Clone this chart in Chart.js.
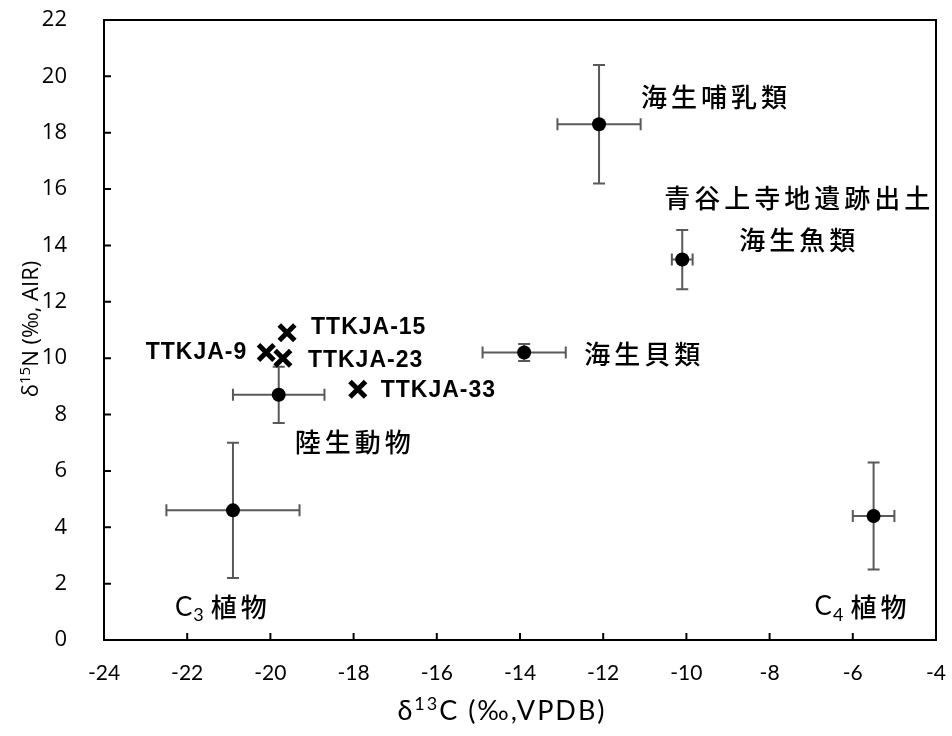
<!DOCTYPE html>
<html>
<head>
<meta charset="utf-8">
<script src="https://cdn.jsdelivr.net/npm/chart.js@4"></script>
<style>
  html, body { margin: 0; padding: 0; background: #fff; }
  #wrap { width: 952px; height: 736px; }
</style>
</head>
<body>
<div id="wrap"><canvas id="c" width="952" height="736"></canvas></div>
<script>
// Food-web reference groups: mean and 1 SD of δ13C / δ15N
const groupNames = ['C3 植物', 'C4 植物', '陸生動物', '海生貝類', '青谷上寺地遺跡出土 海生魚類', '海生哺乳類'];
const groupC13 = [-20.9, -5.5, -19.8, -13.9, -10.1, -12.1];
const groupN15 = [4.6, 4.4, 8.7, 10.2, 13.5, 18.3];
const groupC13SD = [1.6, 0.5, 1.1, 1.0, 0.25, 1.0];
const groupN15SD = [2.4, 1.9, 1.0, 0.3, 1.05, 2.1];

// Individual human samples
const sampleIds = ['TTKJA-9', 'TTKJA-15', 'TTKJA-23', 'TTKJA-33'];
const sampleC13 = [-20.1, -19.6, -19.7, -17.9];
const sampleN15 = [10.2, 10.9, 10.0, 8.9];

// Axis ticks
const xTicks = [-24, -22, -20, -18, -16, -14, -12, -10, -8, -6, -4];
const yTicks = [0, 2, 4, 6, 8, 10, 12, 14, 16, 18, 20, 22];

const CJK = '"Noto Sans CJK JP", sans-serif';
const CJK_FONT = '500 26px ' + CJK;

// Label placement relative to each group's point (pixels)
const groupLabelLayout = [
  { dx: -58, dy: 97, align: 'left', sub: true },
  { dx: -59, dy: 91, align: 'left', sub: true },
  { dx: 16, dy: 47, align: 'left' },
  { dx: 60, dy: 2, align: 'left' },
  { dx: 115, dy: -61, align: 'center', lineGap: 42 },
  { dx: 42, dy: -27, align: 'left' }
];
const sampleLabelLayout = [
  { dx: -19, dy: 0, align: 'right' },
  { dx: 24, dy: -5, align: 'left' },
  { dx: 25, dy: 2, align: 'left' },
  { dx: 23, dy: 1, align: 'left' }
];

const errorBars = {
  id: 'errorBars',
  beforeDatasetsDraw(chart) {
    const { ctx, scales: { x, y } } = chart;
    const cap = 6;
    ctx.save();
    ctx.strokeStyle = '#595959';
    ctx.lineWidth = 2;
    for (let i = 0; i < groupC13.length; i++) {
      const px = x.getPixelForValue(groupC13[i]);
      const py = y.getPixelForValue(groupN15[i]);
      const x0 = x.getPixelForValue(groupC13[i] - groupC13SD[i]);
      const x1 = x.getPixelForValue(groupC13[i] + groupC13SD[i]);
      const y0 = y.getPixelForValue(groupN15[i] + groupN15SD[i]);
      const y1 = y.getPixelForValue(groupN15[i] - groupN15SD[i]);
      ctx.beginPath();
      ctx.moveTo(x0, py); ctx.lineTo(x1, py);
      ctx.moveTo(x0, py - cap); ctx.lineTo(x0, py + cap);
      ctx.moveTo(x1, py - cap); ctx.lineTo(x1, py + cap);
      ctx.moveTo(px, y0); ctx.lineTo(px, y1);
      ctx.moveTo(px - cap, y0); ctx.lineTo(px + cap, y0);
      ctx.moveTo(px - cap, y1); ctx.lineTo(px + cap, y1);
      ctx.stroke();
    }
    ctx.restore();
  }
};

const frameAndText = {
  id: 'frameAndText',
  afterDraw(chart) {
    const { ctx, chartArea: a, scales: { x, y } } = chart;
    ctx.save();
    // plot frame
    ctx.strokeStyle = '#000';
    ctx.lineWidth = 2;
    ctx.strokeRect(a.left, a.top, a.right - a.left, a.bottom - a.top);
    // inward ticks
    ctx.beginPath();
    xTicks.forEach(v => { const p = x.getPixelForValue(v); ctx.moveTo(p, a.bottom); ctx.lineTo(p, a.bottom - 7); });
    yTicks.forEach(v => { const p = y.getPixelForValue(v); ctx.moveTo(a.left, p); ctx.lineTo(a.left + 7, p); });
    ctx.stroke();

    ctx.fillStyle = '#000';
    ctx.textBaseline = 'middle';

    // group labels
    groupNames.forEach((name, i) => {
      const L = groupLabelLayout[i];
      const px = x.getPixelForValue(groupC13[i]) + L.dx;
      const py = y.getPixelForValue(groupN15[i]) + L.dy;
      if (L.sub) {
        const [cpart, word] = name.split(' ');
        ctx.letterSpacing = '0px';
        ctx.font = '26px Lato, sans-serif';
        ctx.textAlign = 'left';
        ctx.fillText('C', px, py);
        const cw = ctx.measureText('C').width;
        ctx.font = '18px Lato, sans-serif';
        ctx.fillText(cpart.slice(1), px + cw + 1, py + 8);
        const sw = ctx.measureText(cpart.slice(1)).width;
        ctx.font = CJK_FONT;
        ctx.letterSpacing = '4px';
        ctx.fillText(word, px + cw + sw + 8, py);
      } else {
        ctx.font = CJK_FONT;
        ctx.letterSpacing = '4px';
        ctx.textAlign = L.align;
        const lines = name.split(' ');
        lines.forEach((ln, k) => ctx.fillText(ln, px + (L.align === 'center' ? 2 : 0), py + k * (L.lineGap || 0)));
      }
    });

    // sample labels
    ctx.letterSpacing = '1px';
    ctx.font = 'bold 23px "Liberation Sans", Arial, sans-serif';
    sampleIds.forEach((id, i) => {
      const L = sampleLabelLayout[i];
      ctx.textAlign = L.align;
      ctx.fillText(id, x.getPixelForValue(sampleC13[i]) + L.dx, y.getPixelForValue(sampleN15[i]) + L.dy);
    });
    ctx.letterSpacing = '0px';

    // axis titles with superscript isotope mass numbers
    ctx.textAlign = 'left';
    ctx.textBaseline = 'alphabetic';
    const drawParts = (parts, startX, baseY, base, sup, rise, spacing) => {
      let cx = startX;
      ctx.letterSpacing = spacing + 'px';
      parts.forEach(p => {
        ctx.font = p.sup ? sup : base;
        ctx.fillText(p.t, cx, baseY - (p.sup ? rise : 0));
        cx += ctx.measureText(p.t).width;
      });
      return cx - startX;
    };
    const measure = (parts, base, sup, spacing) => {
      ctx.letterSpacing = spacing + 'px';
      return parts.reduce((s, p) => { ctx.font = p.sup ? sup : base; return s + ctx.measureText(p.t).width; }, 0);
    };

    // x: δ13C (‰,VPDB)
    const xBase = '27px Lato, sans-serif', xSup = '18px Lato, sans-serif';
    const xTitle = [{ t: 'δ' }, { t: '13', sup: true }, { t: 'C (‰,VPDB)' }];
    const xw = measure(xTitle, xBase, xSup, 2);
    drawParts(xTitle, 502 - xw / 2, 720, xBase, xSup, 10, 2);

    // y: δ15N (‰, AIR)
    const yBase = '22px "Open Sans", sans-serif', ySup = '15px "Open Sans", sans-serif';
    const yTitle = [{ t: 'δ' }, { t: '15', sup: true }, { t: 'N (‰, AIR)' }];
    const yw = measure(yTitle, yBase, ySup, 0);
    ctx.translate(38, 329);
    ctx.rotate(-Math.PI / 2);
    drawParts(yTitle, -yw / 2, 0, yBase, ySup, 8, 0);
    ctx.restore();
  }
};

// keep the plot box fixed: drop the extra room Chart.js reserves for edge tick labels
const noEdgePadding = s => { s.paddingTop = 0; s.paddingBottom = 0; s.paddingLeft = 0; s.paddingRight = 0; };

const chart = new Chart(document.getElementById('c'), {
  type: 'scatter',
  data: {
    datasets: [
      {
        label: 'groups',
        data: groupC13.map((v, i) => ({ x: v, y: groupN15[i] })),
        pointStyle: 'circle',
        pointRadius: 7,
        backgroundColor: '#000',
        borderColor: '#000',
        borderWidth: 0
      },
      {
        label: 'samples',
        data: sampleC13.map((v, i) => ({ x: v, y: sampleN15[i] })),
        pointStyle: 'crossRot',
        pointRadius: 11,
        borderColor: '#000',
        borderWidth: 5
      }
    ]
  },
  options: {
    responsive: false,
    animation: false,
    events: [],
    layout: { padding: { top: 20, right: 14, left: 0, bottom: 0 } },
    plugins: { legend: { display: false }, tooltip: { enabled: false } },
    scales: {
      x: {
        type: 'linear', min: -24, max: -4,
        afterBuildTicks: s => { s.ticks = xTicks.map(v => ({ value: v })); },
        afterFit: s => { s.height = 96; noEdgePadding(s); },
        grid: { display: false },
        border: { display: false },
        ticks: { padding: 13, color: '#000', font: { family: 'Lato', size: 21 }, maxRotation: 0 }
      },
      y: {
        type: 'linear', min: 0, max: 22,
        afterBuildTicks: s => { s.ticks = yTicks.map(v => ({ value: v })); },
        afterFit: s => { s.width = 104; noEdgePadding(s); },
        grid: { display: false },
        border: { display: false },
        ticks: { padding: 29, color: '#000', font: { family: '"Open Sans"', size: 22 } }
      }
    }
  },
  plugins: [errorBars, frameAndText]
});
</script>
</body>
</html>
